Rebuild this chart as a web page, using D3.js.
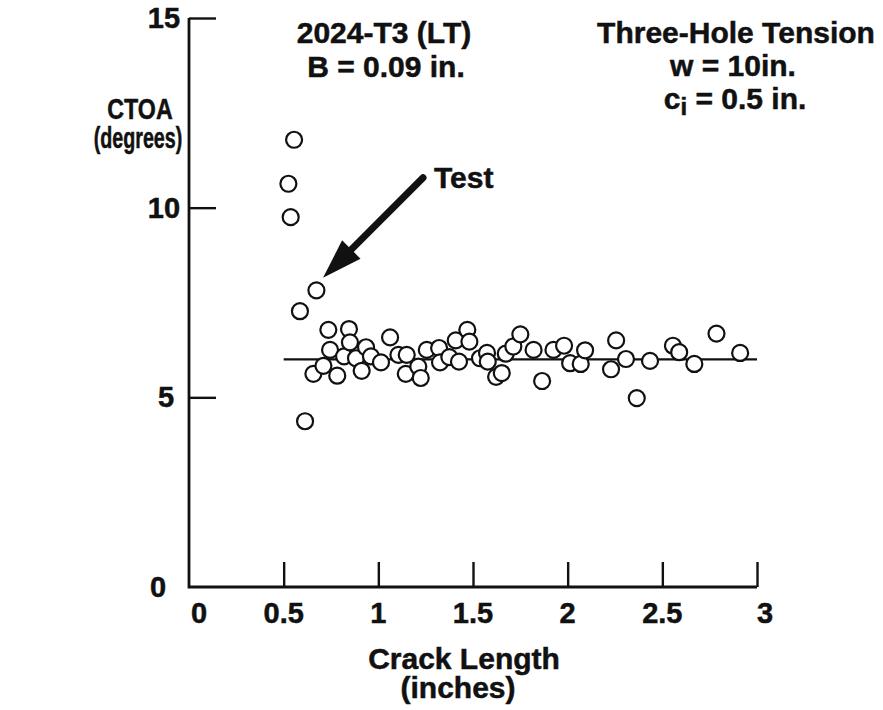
<!DOCTYPE html>
<html>
<head>
<meta charset="utf-8">
<script src="https://cdn.jsdelivr.net/npm/d3@7/dist/d3.min.js"></script>
<style>
  html, body { margin: 0; padding: 0; background: #fff; }
  svg { display: block; }
  text { font-family: "Liberation Sans", Arial, Helvetica, sans-serif; font-weight: bold; fill: #111; stroke: #111; stroke-width: 0.5px; }
</style>
</head>
<body>
<svg id="chart" width="883" height="710"></svg>
<script>
// ---- data ----
const crackLength = [0.525,0.537,0.555,0.586,0.613,0.657,0.673,0.710,0.736,0.745,0.783,0.819,0.845,0.850,0.882,0.912,0.935,0.961,1.014,1.062,1.106,1.150,1.145,1.211,1.224,1.256,1.321,1.326,1.375,1.409,1.426,1.470,1.481,1.537,1.574,1.578,1.622,1.652,1.673,1.713,1.750,1.820,1.865,1.925,1.981,2.013,2.069,2.092,2.229,2.256,2.308,2.365,2.435,2.556,2.589,2.669,2.786,2.911];
const ctoa = [10.63,9.75,11.79,7.27,4.37,5.62,7.82,5.83,6.78,6.25,5.57,6.08,6.80,6.45,6.03,5.70,6.32,6.08,5.92,6.58,6.12,6.12,5.62,5.81,5.51,6.25,6.30,5.92,6.06,6.50,5.94,6.78,6.47,6.03,6.17,5.94,5.54,5.64,6.15,6.34,6.66,6.25,5.43,6.25,6.36,5.90,5.88,6.24,5.74,6.50,6.01,4.98,5.96,6.36,6.19,5.88,6.68,6.17];
const fitLine = {x: [0.5, 3.0], y: [6.0, 6.0]};
const xTicks = [0, 0.5, 1, 1.5, 2, 2.5, 3];
const xTickLabels = ["0", "0.5", "1", "1.5", "2", "2.5", "3"];
const yTicks = [0, 5, 10, 15];
const yTickLabels = ["0", "5", "10", "15"];
const arrowTail = [1.236, 10.79];
const arrowTip = [0.708, 8.15];

// ---- layout ----
const svg = d3.select("#chart");
const x = d3.scaleLinear().domain([0, 3]).range([189, 757]);
const y = d3.scaleLinear().domain([0, 15]).range([587, 18]);

// axes
const yAxis = d3.axisLeft(y).tickValues([5, 10, 15]).tickSize(-27).tickFormat("");
const gy = svg.append("g").attr("transform", `translate(${x(0)},0)`).call(yAxis);
gy.select(".domain").remove();
gy.selectAll(".tick line").attr("stroke", "#111").attr("stroke-width", 2.4);

const xAxis = d3.axisBottom(x).tickValues([0.5, 1, 1.5, 2, 2.5, 3]).tickSize(-25).tickFormat("");
const gx = svg.append("g").attr("transform", `translate(0,${y(0)})`).call(xAxis);
gx.select(".domain").remove();
gx.selectAll(".tick line").attr("stroke", "#111").attr("stroke-width", 2.4);

svg.append("path")
  .attr("d", `M${x(0)},${y(15)} L${x(0)},${y(0)} L${x(3)},${y(0)}`)
  .attr("fill", "none").attr("stroke", "#111").attr("stroke-width", 2.8);

// tick labels
const yLabelX = {0: 158, 5: 166, 10: 164, 15: 164};
svg.append("g").selectAll("text").data(yTicks).join("text")
  .attr("x", d => yLabelX[d]).attr("y", d => y(d) + 10)
  .attr("text-anchor", "middle").attr("font-size", 29)
  .text((d, i) => yTickLabels[i]);

const xLabelShift = {0: 10, 3: 8};
svg.append("g").selectAll("text").data(xTicks).join("text")
  .attr("x", d => x(d) + (xLabelShift[d] || 0)).attr("y", 623)
  .attr("text-anchor", "middle").attr("font-size", 29)
  .text((d, i) => xTickLabels[i]);

// axis titles
svg.append("text").attr("transform", "translate(140,119) scale(0.8,1)").attr("text-anchor", "middle").attr("font-size", 29).text("CTOA");
svg.append("text").attr("transform", "translate(138,148) scale(0.68,1)").attr("text-anchor", "middle").attr("font-size", 29).text("(degrees)");
svg.append("text").attr("x", 464).attr("y", 669).attr("text-anchor", "middle").attr("font-size", 30).text("Crack Length");
svg.append("text").attr("x", 458).attr("y", 698).attr("text-anchor", "middle").attr("font-size", 30).text("(inches)");

// annotations
svg.append("text").attr("x", 384).attr("y", 43).attr("text-anchor", "middle").attr("font-size", 30).text("2024-T3 (LT)");
svg.append("text").attr("x", 386).attr("y", 77).attr("text-anchor", "middle").attr("font-size", 30).text("B = 0.09 in.");
svg.append("text").attr("x", 736).attr("y", 43).attr("text-anchor", "middle").attr("font-size", 30).text("Three-Hole Tension");
svg.append("text").attr("x", 733).attr("y", 76).attr("text-anchor", "middle").attr("font-size", 30).text("w = 10in.");
const ci = svg.append("text").attr("x", 735).attr("y", 109).attr("text-anchor", "middle").attr("font-size", 30);
ci.append("tspan").text("c");
ci.append("tspan").attr("font-size", 24).attr("dy", 6).text("i");
ci.append("tspan").attr("dy", -6).text(" = 0.5 in.");

svg.append("text").attr("x", 434).attr("y", 188).attr("font-size", 30).text("Test");

// fit line
svg.append("line")
  .attr("x1", x(fitLine.x[0])).attr("x2", x(fitLine.x[1]))
  .attr("y1", y(fitLine.y[0])).attr("y2", y(fitLine.y[1]))
  .attr("stroke", "#111").attr("stroke-width", 2.4);

// arrow
const tx = x(arrowTail[0]), ty = y(arrowTail[1]);
const hx = x(arrowTip[0]), hy = y(arrowTip[1]);
const ang = Math.atan2(hy - ty, hx - tx);
const headLen = 40, headHalf = 13;
const bx = hx - headLen * Math.cos(ang), by = hy - headLen * Math.sin(ang);
svg.append("line").attr("x1", tx).attr("y1", ty).attr("x2", bx + 4 * Math.cos(ang)).attr("y2", by + 4 * Math.sin(ang))
  .attr("stroke", "#111").attr("stroke-width", 7).attr("stroke-linecap", "round");
svg.append("path")
  .attr("d", `M${hx},${hy} L${bx + headHalf * Math.sin(ang)},${by - headHalf * Math.cos(ang)} L${bx - headHalf * Math.sin(ang)},${by + headHalf * Math.cos(ang)} Z`)
  .attr("fill", "#111");

// points
const pts = crackLength.map((d, i) => ({x: d, y: ctoa[i]}));
svg.append("g").selectAll("circle").data(pts).join("circle")
  .attr("cx", d => x(d.x)).attr("cy", d => y(d.y)).attr("r", 8)
  .attr("fill", "#fff").attr("stroke", "#111").attr("stroke-width", 2.2);
</script>
</body>
</html>
